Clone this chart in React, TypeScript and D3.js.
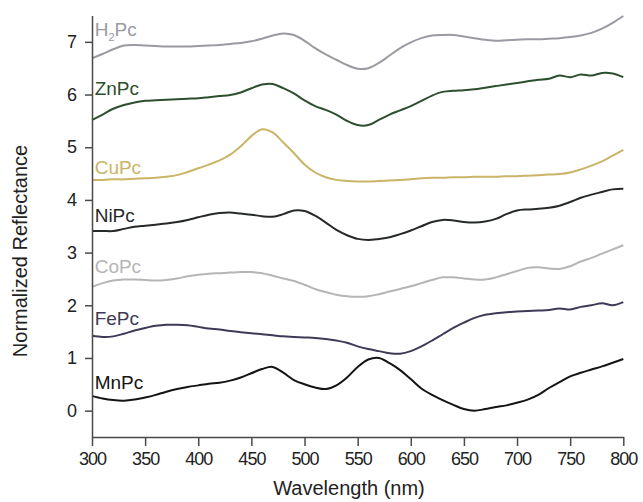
import React, { useEffect, useRef } from "react";
import * as d3 from "d3";

const wavelengths = [
  300, 310, 320, 330, 340, 350, 360, 370, 380, 390, 400, 410, 420, 430, 440, 450, 460,
  470, 480, 490, 500, 510, 520, 530, 540, 550, 560, 570, 580, 590, 600, 610, 620, 630,
  640, 650, 660, 670, 680, 690, 700, 710, 720, 730, 740, 750, 760, 770, 780, 790, 800
];

const h2pc = [
  6.69, 6.77, 6.86, 6.93, 6.94, 6.93, 6.92, 6.91, 6.91, 6.91, 6.92, 6.93, 6.94, 6.96, 6.98, 7.01, 7.06,
  7.12, 7.16, 7.13, 7.02, 6.88, 6.76, 6.66, 6.56, 6.49, 6.50, 6.60, 6.74, 6.88, 6.99, 7.07, 7.12, 7.13,
  7.13, 7.10, 7.07, 7.04, 7.02, 7.03, 7.04, 7.05, 7.05, 7.06, 7.07, 7.09, 7.12, 7.17, 7.25, 7.36, 7.49
];
const znpc = [
  5.52, 5.62, 5.73, 5.80, 5.85, 5.88, 5.89, 5.90, 5.91, 5.92, 5.93, 5.95, 5.97, 5.99, 6.04, 6.12, 6.19,
  6.20, 6.12, 6.02, 5.89, 5.78, 5.71, 5.62, 5.50, 5.42, 5.42, 5.52, 5.62, 5.70, 5.78, 5.88, 5.98, 6.05,
  6.07, 6.08, 6.10, 6.13, 6.16, 6.19, 6.22, 6.25, 6.28, 6.30, 6.36, 6.33, 6.38, 6.36, 6.41, 6.40, 6.33
];
const cupc = [
  4.38, 4.38, 4.39, 4.39, 4.40, 4.41, 4.42, 4.44, 4.47, 4.53, 4.60, 4.67, 4.75, 4.86, 5.02, 5.21, 5.34,
  5.28, 5.09, 4.89, 4.67, 4.52, 4.43, 4.38, 4.36, 4.35, 4.35, 4.36, 4.37, 4.38, 4.39, 4.41, 4.42, 4.42,
  4.43, 4.43, 4.44, 4.44, 4.44, 4.45, 4.45, 4.46, 4.47, 4.48, 4.49, 4.52, 4.58, 4.65, 4.73, 4.84, 4.95
];
const nipc = [
  3.41, 3.41, 3.41, 3.45, 3.49, 3.51, 3.53, 3.55, 3.58, 3.62, 3.67, 3.72, 3.75, 3.76, 3.74, 3.72, 3.69,
  3.68, 3.73, 3.80, 3.79, 3.70, 3.57, 3.43, 3.33, 3.26, 3.24, 3.26, 3.29, 3.35, 3.42, 3.50, 3.58, 3.62,
  3.61, 3.58, 3.57, 3.59, 3.64, 3.73, 3.80, 3.82, 3.83, 3.85, 3.89, 3.96, 4.04, 4.10, 4.15, 4.20, 4.21
];
const copc = [
  2.35, 2.42, 2.47, 2.49, 2.49, 2.48, 2.47, 2.48, 2.51, 2.55, 2.58, 2.60, 2.61, 2.62, 2.63, 2.63, 2.61,
  2.56, 2.51, 2.46, 2.39, 2.31, 2.25, 2.20, 2.17, 2.16, 2.17, 2.21, 2.26, 2.31, 2.36, 2.42, 2.48, 2.53,
  2.53, 2.51, 2.49, 2.49, 2.53, 2.59, 2.65, 2.71, 2.72, 2.70, 2.69, 2.74, 2.83, 2.90, 2.98, 3.06, 3.14
];
const fepc = [
  1.42, 1.40, 1.41, 1.46, 1.52, 1.57, 1.61, 1.63, 1.63, 1.62, 1.59, 1.56, 1.54, 1.51, 1.49, 1.47, 1.45,
  1.43, 1.41, 1.40, 1.39, 1.38, 1.36, 1.33, 1.29, 1.22, 1.17, 1.13, 1.09, 1.08, 1.13, 1.22, 1.33, 1.45,
  1.57, 1.67, 1.76, 1.82, 1.85, 1.87, 1.88, 1.89, 1.90, 1.91, 1.94, 1.92, 1.97, 2.00, 2.04, 2.00, 2.06
];
const mnpc = [
  0.28, 0.23, 0.20, 0.19, 0.21, 0.25, 0.30, 0.36, 0.41, 0.45, 0.48, 0.51, 0.53, 0.57, 0.63, 0.71, 0.79,
  0.83, 0.72, 0.58, 0.50, 0.44, 0.41, 0.48, 0.63, 0.83, 0.97, 1.00, 0.90, 0.77, 0.60, 0.42, 0.30, 0.20,
  0.11, 0.03, 0.00, 0.03, 0.07, 0.10, 0.15, 0.21, 0.30, 0.43, 0.54, 0.65, 0.72, 0.78, 0.84, 0.91, 0.98
];

const seriesNames = ["H2Pc", "ZnPc", "CuPc", "NiPc", "CoPc", "FePc", "MnPc"];
const seriesValues = [h2pc, znpc, cupc, nipc, copc, fepc, mnpc];
const seriesColors = ["#9a9aa2", "#2c4f2e", "#c9b467", "#262a27", "#b5b5b5", "#3e3a56", "#141414"];
// baseline of each label, in reflectance units
const labelY = [7.11, 5.99, 4.5, 3.59, 2.61, 1.63, 0.41];

const xTicks = [300, 350, 400, 450, 500, 550, 600, 650, 700, 750, 800];
const xMinorTicks = [325, 375, 425, 475, 525, 575, 625, 675, 725, 775];
const yTicks = [0, 1, 2, 3, 4, 5, 6, 7];

const W = 643;
const H = 502;
const FONT = "'Liberation Sans', Arial, sans-serif";

export default function App() {
  const ref = useRef<SVGSVGElement>(null);

  useEffect(() => {
    const svg = d3.select(ref.current);
    svg.selectAll("*").remove();

    const x = d3.scaleLinear().domain([300, 800]).range([92, 623.3]);
    const y = d3.scaleLinear().domain([-0.5, 7.5]).range([437, 15.5]);

    // curves
    const line = d3
      .line<number>()
      .x((d, i) => x(wavelengths[i]))
      .y((d) => y(d))
      .curve(d3.curveCatmullRom.alpha(0.5));

    seriesValues.forEach((vals, k) => {
      svg
        .append("path")
        .attr("d", line(vals))
        .attr("fill", "none")
        .attr("stroke", seriesColors[k])
        .attr("stroke-width", 2)
        .attr("stroke-linejoin", "round");
    });

    // series labels
    seriesNames.forEach((name, k) => {
      const t = svg
        .append("text")
        .attr("x", x(302.5))
        .attr("y", y(labelY[k]))
        .attr("font-family", FONT)
        .attr("font-size", 19)
        .attr("fill", seriesColors[k]);
      if (name === "H2Pc") {
        t.append("tspan").text("H");
        t.append("tspan").attr("font-size", 11).attr("dy", 5).text("2");
        t.append("tspan").attr("dy", -5).text("Pc");
      } else {
        t.text(name);
      }
    });

    // x axis
    const gx = svg.append("g").attr("transform", `translate(0,${y(-0.5)})`);
    gx.call(d3.axisBottom(x).tickValues(xMinorTicks).tickSize(5).tickFormat(() => ""));
    gx.call(d3.axisBottom(x).tickValues(xTicks).tickSize(9).tickSizeOuter(0).tickPadding(6));
    gx.selectAll("path,line").attr("stroke", "#4a4a4a").attr("stroke-width", 1.5);
    gx.selectAll("text")
      .attr("font-family", FONT)
      .attr("font-size", 18)
      .attr("fill", "#222")
      .attr("letter-spacing", -1);

    // y axis
    const gy = svg.append("g").attr("transform", `translate(${x(300)},0)`);
    gy.call(d3.axisLeft(y).tickValues(yTicks).tickSize(7).tickSizeOuter(0).tickPadding(8));
    gy.selectAll("path,line").attr("stroke", "#4a4a4a").attr("stroke-width", 1.5);
    gy.selectAll("text")
      .attr("font-family", FONT)
      .attr("font-size", 18)
      .attr("fill", "#222");

    // titles
    svg
      .append("text")
      .attr("x", 349)
      .attr("y", 495)
      .attr("text-anchor", "middle")
      .attr("font-family", FONT)
      .attr("font-size", 20)
      .attr("fill", "#222")
      .text("Wavelength (nm)");

    svg
      .append("text")
      .attr("transform", "translate(27,251) rotate(-90)")
      .attr("text-anchor", "middle")
      .attr("font-family", FONT)
      .attr("font-size", 20)
      .attr("fill", "#222")
      .text("Normalized Reflectance");
  }, []);

  return (
    <svg
      ref={ref}
      width={W}
      height={H}
      style={{ position: "absolute", left: 0, top: 0, background: "#fff" }}
    />
  );
}
